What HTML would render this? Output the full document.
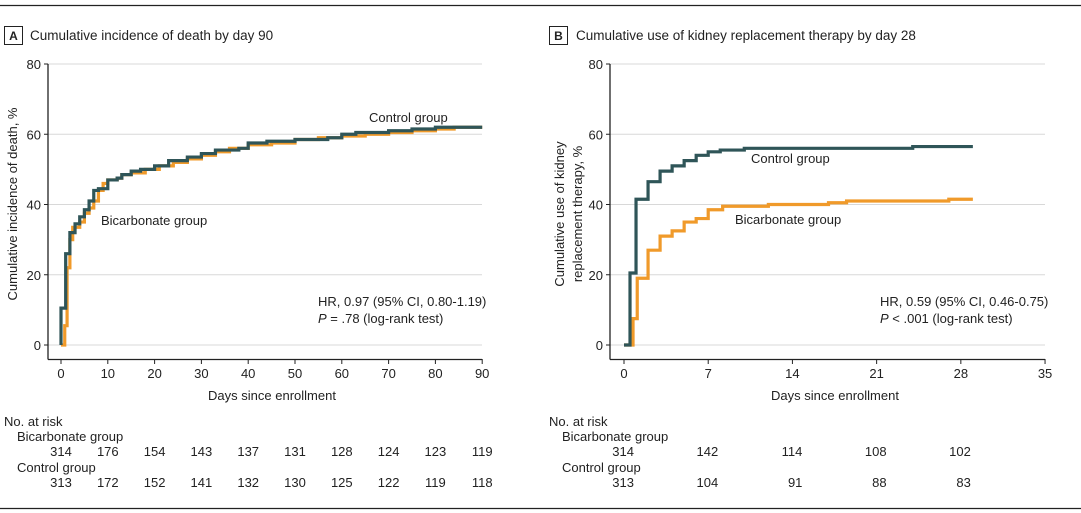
<!DOCTYPE html>
<html><head><meta charset="utf-8">
<style>
html,body{margin:0;padding:0;background:#fff;}
svg{display:block;font-family:"Liberation Sans Narrow","Liberation Sans",sans-serif;font-size:13px;fill:#222;}
</style></head><body>
<svg id="s" width="1081" height="513" viewBox="0 0 1081 513" xmlns="http://www.w3.org/2000/svg">
<line x1="0" y1="5.5" x2="1081" y2="5.5" stroke="#222" stroke-width="1.2"/>
<line x1="0" y1="508.5" x2="1081" y2="508.5" stroke="#222" stroke-width="1.2"/>
<rect x="4.5" y="26.5" width="18" height="18" fill="none" stroke="#222" stroke-width="1"/>
<text x="13.5" y="40" text-anchor="middle" font-weight="bold" font-size="12">A</text>
<text x="30" y="40" font-size="13.5">Cumulative incidence of death by day 90</text>
<rect x="549.5" y="26.5" width="18" height="18" fill="none" stroke="#222" stroke-width="1"/>
<text x="558.5" y="40" text-anchor="middle" font-weight="bold" font-size="12">B</text>
<text x="576" y="40" font-size="13.5">Cumulative use of kidney replacement therapy by day 28</text>
<g id="g"></g>
</svg>
<script>
var g=document.getElementById('g');var NS='http://www.w3.org/2000/svg';
function el(t,a,txt){var e=document.createElementNS(NS,t);for(var k in a)e.setAttribute(k,a[k]);if(txt!==undefined)e.textContent=txt;g.appendChild(e);return e;}
function yv(p){return 345-p*(281/80);}
function panel(ax,xs,xe,ticks,dpx){
 [0,20,40,60,80].forEach(function(v){
  el('line',{x1:ax,x2:xe,y1:yv(v),y2:yv(v),stroke:'#d8d8d8','stroke-width':1});
  el('line',{x1:ax-4,x2:ax,y1:yv(v),y2:yv(v),stroke:'#222','stroke-width':1});
  el('text',{x:ax-7,y:yv(v)+5,'text-anchor':'end'},v);
 });
 el('line',{x1:ax,x2:ax,y1:64,y2:359.5,stroke:'#222','stroke-width':1.3});
 el('line',{x1:ax,x2:xe,y1:359.5,y2:359.5,stroke:'#222','stroke-width':1.3});
 ticks.forEach(function(tk){var x=xs+tk*dpx;
  el('line',{x1:x,x2:x,y1:359,y2:364,stroke:'#222','stroke-width':1});
  el('text',{x:x,y:378,'text-anchor':'middle'},tk);});
}
function curve(pts,xs,dpx,col){
 var d='';
 pts.forEach(function(p,i){var x=xs+p[0]*dpx,y=yv(p[1]);
  if(i==0)d+='M'+x+' '+y;else d+=' H'+x+' V'+y;});
 el('path',{d:d,fill:'none',stroke:col,'stroke-width':3.2,'stroke-linejoin':'miter'});
}
var T='#2f5558',O='#f09a2a';
var dA=4.68,xA=61;
panel(48,xA,482,[0,10,20,30,40,50,60,70,80,90],dA);
var bA=[[0,0],[0.8,5.5],[1.3,22],[1.9,30],[2.5,33.5],[4,35],[5,37.5],[6,39],[7,41],[8,44],[9,46],[10,47],[12,47.5],[13,48.5],[15,49],[18,50],[21,51],[24,52],[27,53],[30,54],[33,55],[36,56],[40,57],[45,57.5],[50,58.5],[55,59],[60,59.5],[65,60],[70,60.5],[75,61],[80,61.5],[84,62],[90,62]];
var cA=[[0,0],[0,10.5],[1,10.5],[1,26],[1.9,32],[3,34.5],[4,36.5],[5,38.5],[6,41],[7,44],[8,44.5],[10,47],[12,47.5],[13,48.5],[15,49.5],[17,50],[20,51],[23,52.5],[27,53.5],[30,54.5],[33,55.5],[38,56],[40,57.5],[44,58],[50,58.5],[57,59],[60,60],[63,60.5],[70,61],[75,61.5],[80,62],[90,62]];
curve(bA,xA,dA,O);curve(cA,xA,dA,T);
el('text',{x:369,y:122},'Control group');
el('text',{x:101,y:225},'Bicarbonate group');
el('text',{x:318,y:306},'HR, 0.97 (95% CI, 0.80-1.19)');
var t1=el('text',{x:318,y:323});t1.innerHTML='<tspan font-style="italic">P</tspan> = .78 (log-rank test)';
el('text',{x:272,y:400,'text-anchor':'middle'},'Days since enrollment');
el('text',{transform:'translate(17,204) rotate(-90)','text-anchor':'middle'},'Cumulative incidence of death, %');
var dB=12.03,xB=624;
panel(610,xB,1045,[0,7,14,21,28,35],dB);
var bB=[[0,0],[0.75,7.5],[1.1,19],[2,27],[3,31],[4,32.5],[5,35],[6,36],[7,38.5],[8.2,39.5],[12,40],[17,40.5],[18.5,41],[27,41.5],[29,41.5]];
var cB=[[0,0],[0.5,20.5],[1,41.5],[2,46.5],[3,49.5],[4,51],[5,52.5],[6,54],[7,55],[8,55.5],[10,56],[24,56.5],[29,56.5]];
curve(bB,xB,dB,O);curve(cB,xB,dB,T);
el('text',{x:751,y:163},'Control group');
el('text',{x:735,y:224},'Bicarbonate group');
el('text',{x:880,y:306},'HR, 0.59 (95% CI, 0.46-0.75)');
var t2=el('text',{x:880,y:323});t2.innerHTML='<tspan font-style="italic">P</tspan> &lt; .001 (log-rank test)';
el('text',{x:835,y:400,'text-anchor':'middle'},'Days since enrollment');
el('text',{transform:'translate(564,214) rotate(-90)','text-anchor':'middle'},'Cumulative use of kidney');
el('text',{transform:'translate(582,214) rotate(-90)','text-anchor':'middle'},'replacement therapy, %');
el('text',{x:4,y:426},'No. at risk');
el('text',{x:17,y:441},'Bicarbonate group');
el('text',{x:17,y:472},'Control group');
var rb=[314,176,154,143,137,131,128,124,123,119],rc=[313,172,152,141,132,130,125,122,119,118];
rb.forEach(function(v,i){el('text',{x:xA+i*10*dA,y:456,'text-anchor':'middle'},v);});
rc.forEach(function(v,i){el('text',{x:xA+i*10*dA,y:487,'text-anchor':'middle'},v);});
el('text',{x:549,y:426},'No. at risk');
el('text',{x:562,y:441},'Bicarbonate group');
el('text',{x:562,y:472},'Control group');
var bb=[314,142,114,108,102],bc=[313,104,91,88,83];
bb.forEach(function(v,i){el('text',{x:xB+i*7*dB+10,y:456,'text-anchor':'end'},v);});
bc.forEach(function(v,i){el('text',{x:xB+i*7*dB+10,y:487,'text-anchor':'end'},v);});
</script>
</body></html>
